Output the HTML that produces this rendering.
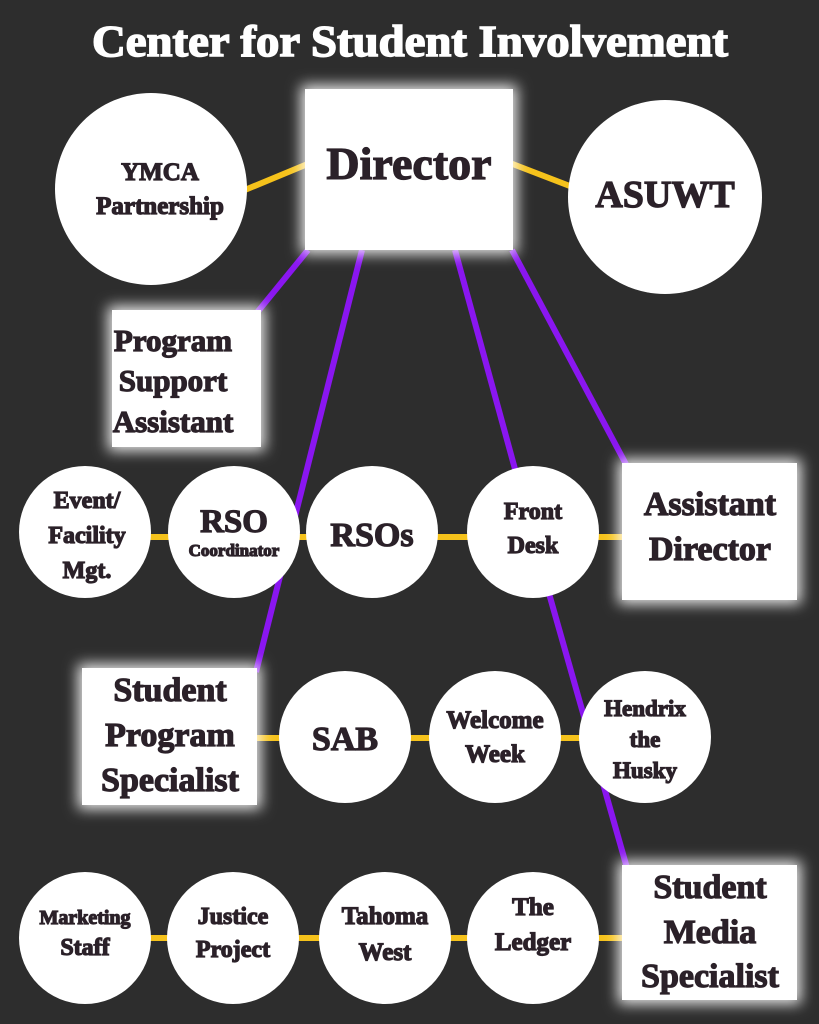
<!DOCTYPE html>
<html><head><meta charset="utf-8"><style>
html,body{margin:0;padding:0;background:#2d2d2d;}
svg{display:block}
text{font-family:"Liberation Serif",serif;font-weight:bold;fill:#2b2129;stroke:#2b2129;stroke-width:1.2px;text-anchor:middle}
</style></head><body>
<svg width="819" height="1024" viewBox="0 0 819 1024" xmlns="http://www.w3.org/2000/svg">
<defs>
<filter id="glow" x="-30%" y="-30%" width="160%" height="160%">
<feMorphology in="SourceAlpha" operator="dilate" radius="4" result="d"/>
<feGaussianBlur in="d" stdDeviation="7" result="b"/>
<feFlood flood-color="#fff" flood-opacity="0.9"/><feComposite in2="b" operator="in" result="gl"/>
<feMerge><feMergeNode in="gl"/><feMergeNode in="SourceGraphic"/></feMerge>
</filter>
</defs>
<rect width="819" height="1024" fill="#2d2d2d"/>
<text x="410" y="56" style="fill:#fff;stroke:#fff;font-size:44px;stroke-width:1.5px" textLength="636" lengthAdjust="spacingAndGlyphs">Center for Student Involvement</text>
<g stroke="#f5c21b" stroke-width="6">
<line x1="240" y1="192" x2="310" y2="163"/>
<line x1="510" y1="163" x2="575" y2="188"/>
<line x1="150" y1="537" x2="625" y2="537"/>
<line x1="255" y1="738" x2="585" y2="738"/>
<line x1="150" y1="938" x2="625" y2="938"/>
</g>
<g stroke="#8a16f0" stroke-width="6">
<line x1="308" y1="250" x2="255" y2="315"/>
<line x1="362" y1="250" x2="256" y2="672"/>
<line x1="455" y1="250" x2="518" y2="480"/>
<line x1="512" y1="250" x2="628" y2="468"/>
<line x1="548" y1="590" x2="627" y2="868"/>
</g>
<g fill="#fff">
<circle cx="151" cy="189" r="96"/>
<circle cx="665" cy="197" r="97"/>
<circle cx="85" cy="532" r="66"/>
<circle cx="234" cy="532" r="66"/>
<circle cx="372" cy="532" r="66"/>
<circle cx="533" cy="532" r="66"/>
<circle cx="345" cy="737" r="66"/>
<circle cx="495" cy="737" r="66"/>
<circle cx="645" cy="737" r="66"/>
<circle cx="85" cy="938" r="66"/>
<circle cx="233" cy="938" r="66"/>
<circle cx="385" cy="938" r="66"/>
<circle cx="533" cy="938" r="66"/>
</g>
<g fill="#fff" filter="url(#glow)">
<rect x="305" y="89" width="208" height="161"/>
<rect x="112" y="310" width="149" height="137"/>
<rect x="622" y="463" width="175" height="137"/>
<rect x="82" y="668" width="175" height="137"/>
<rect x="622" y="865" width="175" height="135"/>
</g>
<text x="409" y="179" style="font-size:46px">Director</text>
<text x="160" y="180" style="font-size:25px">YMCA</text>
<text x="160" y="214" style="font-size:25px">Partnership</text>
<text x="665" y="207" style="font-size:38px">ASUWT</text>
<text x="173" y="351" style="font-size:31px">Program</text>
<text x="173" y="391" style="font-size:31px">Support</text>
<text x="173" y="432" style="font-size:31px">Assistant</text>
<text x="87" y="508" style="font-size:24px">Event/</text>
<text x="87" y="543" style="font-size:24px">Facility</text>
<text x="87" y="578" style="font-size:24px">Mgt.</text>
<text x="234" y="532" style="font-size:33px">RSO</text>
<text x="234" y="556" style="font-size:17px">Coordinator</text>
<text x="372" y="546" style="font-size:34px">RSOs</text>
<text x="533" y="519" style="font-size:24px">Front</text>
<text x="533" y="553" style="font-size:24px">Desk</text>
<text x="710" y="515" style="font-size:34px">Assistant</text>
<text x="710" y="560" style="font-size:34px">Director</text>
<text x="170" y="701" style="font-size:34px">Student</text>
<text x="170" y="746" style="font-size:34px">Program</text>
<text x="170" y="791" style="font-size:34px">Specialist</text>
<text x="345" y="750" style="font-size:34px">SAB</text>
<text x="495" y="728" style="font-size:25px">Welcome</text>
<text x="495" y="762" style="font-size:25px">Week</text>
<text x="645" y="716" style="font-size:23px">Hendrix</text>
<text x="645" y="747" style="font-size:23px">the</text>
<text x="645" y="778" style="font-size:23px">Husky</text>
<text x="85" y="924" style="font-size:20px">Marketing</text>
<text x="85" y="955" style="font-size:24px">Staff</text>
<text x="233" y="924" style="font-size:24px">Justice</text>
<text x="233" y="957" style="font-size:24px">Project</text>
<text x="385" y="924" style="font-size:25px">Tahoma</text>
<text x="385" y="960" style="font-size:25px">West</text>
<text x="533" y="915" style="font-size:25px">The</text>
<text x="533" y="950" style="font-size:25px">Ledger</text>
<text x="710" y="898" style="font-size:34px">Student</text>
<text x="710" y="943" style="font-size:34px">Media</text>
<text x="710" y="987" style="font-size:34px">Specialist</text>
</svg>
</body></html>
